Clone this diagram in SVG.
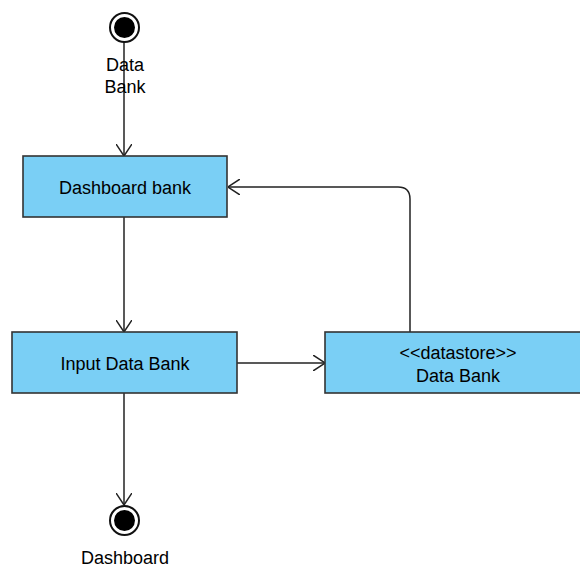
<svg xmlns="http://www.w3.org/2000/svg" width="580" height="567" viewBox="0 0 580 567">
<defs>
<style>
.box{fill:#7acff5;stroke:#333;stroke-width:1.6}
.t{font-family:"Liberation Sans",Arial,sans-serif;font-size:18px;fill:#000;text-anchor:middle}
.c{fill:none;stroke:#222;stroke-width:1.5}
</style>
<marker id="a" viewBox="0 0 12 16" refX="12" refY="8" markerWidth="12" markerHeight="16" markerUnits="userSpaceOnUse" orient="auto">
<path d="M0,0 L12,8 L0,16" fill="none" stroke="#222" stroke-width="1.5"/>
</marker>
</defs>
<g id="connectors">
<path class="c" d="M124,42 V156" marker-end="url(#a)"/>
<path class="c" d="M124,217 V332" marker-end="url(#a)"/>
<path class="c" d="M124,393 V505" marker-end="url(#a)"/>
<path class="c" d="M237,363 H325" marker-end="url(#a)"/>
<path class="c" d="M410,332 V199 Q410,187 398,187 H228" marker-end="url(#a)"/>
</g>
<g id="start">
<circle cx="124.5" cy="27.5" r="14.5" fill="#fff" stroke="#111" stroke-width="2"/>
<circle cx="124.5" cy="27.5" r="10.5" fill="#000"/>
<text class="t" x="125" y="71">Data</text>
<text class="t" x="125" y="93">Bank</text>
</g>
<g id="dashboard-bank">
<rect class="box" x="23" y="156" width="204" height="61"/>
<text class="t" x="125" y="194">Dashboard bank</text>
</g>
<g id="input-data-bank">
<rect class="box" x="12" y="332" width="225" height="61"/>
<text class="t" x="125" y="370">Input Data Bank</text>
</g>
<g id="datastore">
<rect class="box" x="325" y="332" width="260" height="61"/>
<text class="t" x="458" y="359">&lt;&lt;datastore&gt;&gt;</text>
<text class="t" x="458" y="382">Data Bank</text>
</g>
<g id="end">
<circle cx="124.5" cy="520.5" r="14.5" fill="#fff" stroke="#111" stroke-width="2"/>
<circle cx="124.5" cy="520.5" r="10.5" fill="#000"/>
<text class="t" x="125" y="564">Dashboard</text>
</g>
</svg>
